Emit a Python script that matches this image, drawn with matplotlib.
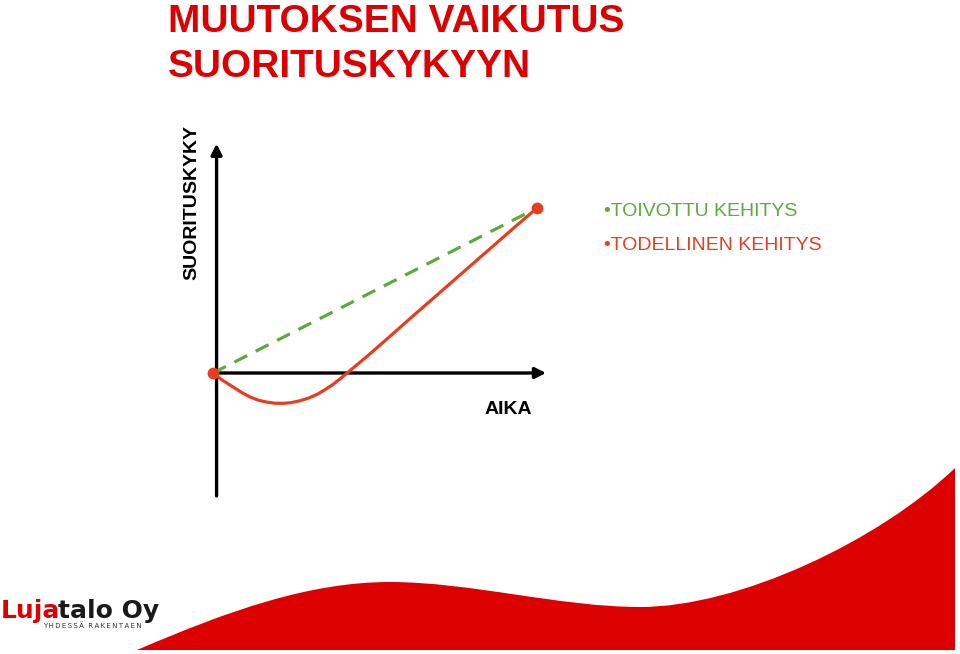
import matplotlib
matplotlib.use("Agg")
import matplotlib.pyplot as plt
from matplotlib.path import Path
from matplotlib.patches import PathPatch

plt.rcParams['font.family'] = ['Liberation Sans', 'DejaVu Sans']

# values (time units / performance units)
TITLE = ["MUUTOKSEN VAIKUTUS", "SUORITUSKYKYYN"]
Y_LABEL = "SUORITUSKYKY"
X_LABEL = "AIKA"
LEGEND = ["\u2022TOIVOTTU KEHITYS", "\u2022TODELLINEN KEHITYS"]

hoped_t = [0, 10]
hoped_p = [0, 10]

actual_t = [0, 0.3, 0.62, 0.9, 1.14, 1.4, 1.67, 1.9, 2.16, 2.4, 2.69, 2.95, 3.21,
            3.45, 3.70, 3.92, 4.14, 4.75, 5.45, 6.17, 7.22, 8.24, 9.26, 10]
actual_p = [0, -0.45, -0.85, -1.2, -1.45, -1.65, -1.77, -1.83, -1.84, -1.8, -1.68,
            -1.52, -1.3, -1.02, -0.7, -0.36, 0, 1.0, 2.2, 3.45, 5.25, 7.0, 8.75, 10]

RED = '#dc0000'
GREEN = '#5aab3c'
ORANGE = '#e63e1e'

W, H = 960, 654


def Main():
    fig = plt.figure(figsize=(W / 100, H / 100), dpi=100)

    # background layer in pixel coordinates (title, logo, swoosh)
    bg = fig.add_axes([0, 0, 1, 1])
    bg.set_xlim(0, W)
    bg.set_ylim(H, 0)
    bg.axis('off')

    verts = [(137, 650), (230, 610), (310, 582), (390, 582),
             (470, 582), (560, 607), (640, 607),
             (740, 607), (880, 540), (955, 468),
             (955, 650), (137, 650)]
    codes = [Path.MOVETO] + [Path.CURVE4] * 9 + [Path.LINETO, Path.CLOSEPOLY]
    bg.add_patch(PathPatch(Path(verts, codes), facecolor=RED, edgecolor='none'))

    bg.text(168, 32, TITLE[0], color=RED, fontsize=28, fontweight='bold', va='baseline')
    bg.text(168, 77, TITLE[1], color=RED, fontsize=28, fontweight='bold', va='baseline')

    # logo
    t1 = bg.text(1, 618, "Luja", color=RED, fontsize=18, fontweight='heavy',
                 family='DejaVu Sans', va='baseline')
    fig.canvas.draw()
    bb = t1.get_window_extent()
    bg.text(bb.x1 - 2.5, 618, "talo Oy", color='#1a1a1a', fontsize=18,
            fontweight='heavy', family='DejaVu Sans', va='baseline')
    tag = "\u2009".join("YHDESSÄ") + "  " + "\u2009".join("RAKENTAEN")
    bg.text(43, 627.5, tag, color='#333333', fontsize=5, family='DejaVu Sans',
            va='baseline')

    # legend-like texts
    bg.text(604, 216, LEGEND[0], color=GREEN, fontsize=14, va='baseline')
    bg.text(604, 250, LEGEND[1], color=ORANGE, fontsize=14, va='baseline')

    bg.text(192, 203, Y_LABEL, fontsize=14, fontweight='bold', rotation=90,
            ha='center', va='center')
    bg.text(508, 414, X_LABEL, fontsize=14, fontweight='bold', ha='center', va='baseline')

    # chart
    ax = fig.add_axes([190 / W, (H - 510) / H, 370 / W, 390 / H])
    ax.set_xlim(-0.7099, 10.710)
    ax.set_ylim(-8.303, 15.333)
    ax.axis('off')

    ax.annotate('', xy=(0.11, 13.9), xytext=(0.11, -7.45),
                arrowprops=dict(arrowstyle='-|>', lw=2.4, color='black',
                                mutation_scale=16, shrinkA=0, shrinkB=0))
    ax.annotate('', xy=(10.28, 0), xytext=(0.0, 0),
                arrowprops=dict(arrowstyle='-|>', lw=2.4, color='black',
                                mutation_scale=16, shrinkA=0, shrinkB=0))

    ax.plot(hoped_t, hoped_p, color=GREEN, lw=2.3, dashes=(4.5, 3), zorder=3)
    ax.plot(actual_t, actual_p, color=ORANGE, lw=2.3, solid_joinstyle='round',
            solid_capstyle='round', zorder=4)
    ax.plot([actual_t[0], actual_t[-1]], [actual_p[0], actual_p[-1]], 'o',
            color=ORANGE, markersize=7.5, zorder=5)

    fig.savefig('out.png', dpi=100)


if __name__ == '__main__':
    Main()
